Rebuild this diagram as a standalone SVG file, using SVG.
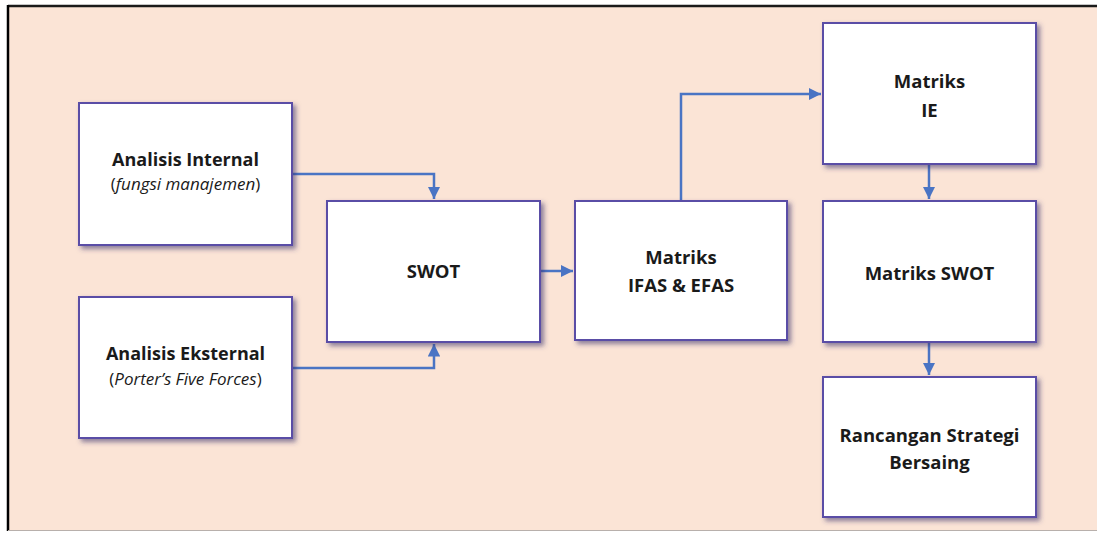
<svg xmlns="http://www.w3.org/2000/svg" width="1097" height="535" viewBox="0 0 1097 535">
<style>
.box{fill:#ffffff;stroke:#5a4ea6;stroke-width:2}
.t{font-family:"Open Sans","Liberation Sans",sans-serif;font-size:18.5px;font-weight:bold;fill:#1a1a1a;text-anchor:middle}
.t2{font-size:18px}
.i{font-family:"Open Sans","Liberation Sans",sans-serif;font-size:17px;font-style:italic;fill:#1a1a1a;text-anchor:middle}
.n{font-style:normal}
.c{fill:none;stroke:#4a74c4;stroke-width:2.5}
</style>
<defs>
<marker id="ah" viewBox="0 0 10 10" refX="10" refY="5" markerWidth="5" markerHeight="5" orient="auto" markerUnits="strokeWidth">
<path d="M0,0 L10,5 L0,10 z" fill="#4a74c4"/>
</marker>
<filter id="sh" x="-10%" y="-10%" width="130%" height="130%">
<feGaussianBlur in="SourceAlpha" stdDeviation="2.5"/>
<feOffset dx="3" dy="3" result="b"/>
<feFlood flood-color="#3c3670" flood-opacity="0.6"/>
<feComposite in2="b" operator="in"/>
<feMerge><feMergeNode/><feMergeNode in="SourceGraphic"/></feMerge>
</filter>
</defs>
<rect x="0" y="0" width="1097" height="535" fill="#ffffff"/>
<rect x="8" y="6" width="1089" height="524" fill="#fbe4d6"/>
<line x1="8" y1="6" x2="1097" y2="6" stroke="#1a1a1a" stroke-width="2.5"/>
<line x1="8" y1="5" x2="8" y2="531" stroke="#000000" stroke-width="2.5"/>
<line x1="8" y1="530.5" x2="1097" y2="530.5" stroke="#b8b0ac" stroke-width="1"/>

<g id="connectors">
<path class="c" d="M292,174 H434 V199" marker-end="url(#ah)"/>
<path class="c" d="M292,368 H434 V344" marker-end="url(#ah)"/>
<path class="c" d="M540,271 H573" marker-end="url(#ah)"/>
<path class="c" d="M681,201 V94 H821" marker-end="url(#ah)"/>
<path class="c" d="M929,164 V199" marker-end="url(#ah)"/>
<path class="c" d="M929,342 V375" marker-end="url(#ah)"/>
</g>

<g id="analisis-internal">
<rect class="box" x="79" y="103" width="213" height="142" filter="url(#sh)"/>
<text class="t t2" x="185.5" y="166">Analisis Internal</text>
<text class="i" x="185.5" y="190"><tspan class="n">(</tspan>fungsi manajemen<tspan class="n">)</tspan></text>
</g>
<g id="analisis-eksternal">
<rect class="box" x="79" y="297" width="213" height="141" filter="url(#sh)"/>
<text class="t t2" x="185.5" y="360">Analisis Eksternal</text>
<text class="i" x="185.5" y="385"><tspan class="n">(</tspan>Porter’s Five Forces<tspan class="n">)</tspan></text>
</g>
<g id="swot">
<rect class="box" x="327" y="201" width="213" height="141" filter="url(#sh)"/>
<text class="t" x="433.5" y="278">SWOT</text>
</g>
<g id="ifas-efas">
<rect class="box" x="575" y="201" width="212" height="139" filter="url(#sh)"/>
<text class="t" x="681" y="264">Matriks</text>
<text class="t" x="681" y="292">IFAS &amp; EFAS</text>
</g>
<g id="matriks-ie">
<rect class="box" x="823" y="23" width="213" height="141" filter="url(#sh)"/>
<text class="t" x="929.5" y="88">Matriks</text>
<text class="t" x="929.5" y="117">IE</text>
</g>
<g id="matriks-swot">
<rect class="box" x="823" y="201" width="213" height="141" filter="url(#sh)"/>
<text class="t" x="929.5" y="280">Matriks SWOT</text>
</g>
<g id="rancangan">
<rect class="box" x="823" y="377" width="213" height="140" filter="url(#sh)"/>
<text class="t" x="929.5" y="442">Rancangan Strategi</text>
<text class="t" x="929.5" y="469">Bersaing</text>
</g>
</svg>
